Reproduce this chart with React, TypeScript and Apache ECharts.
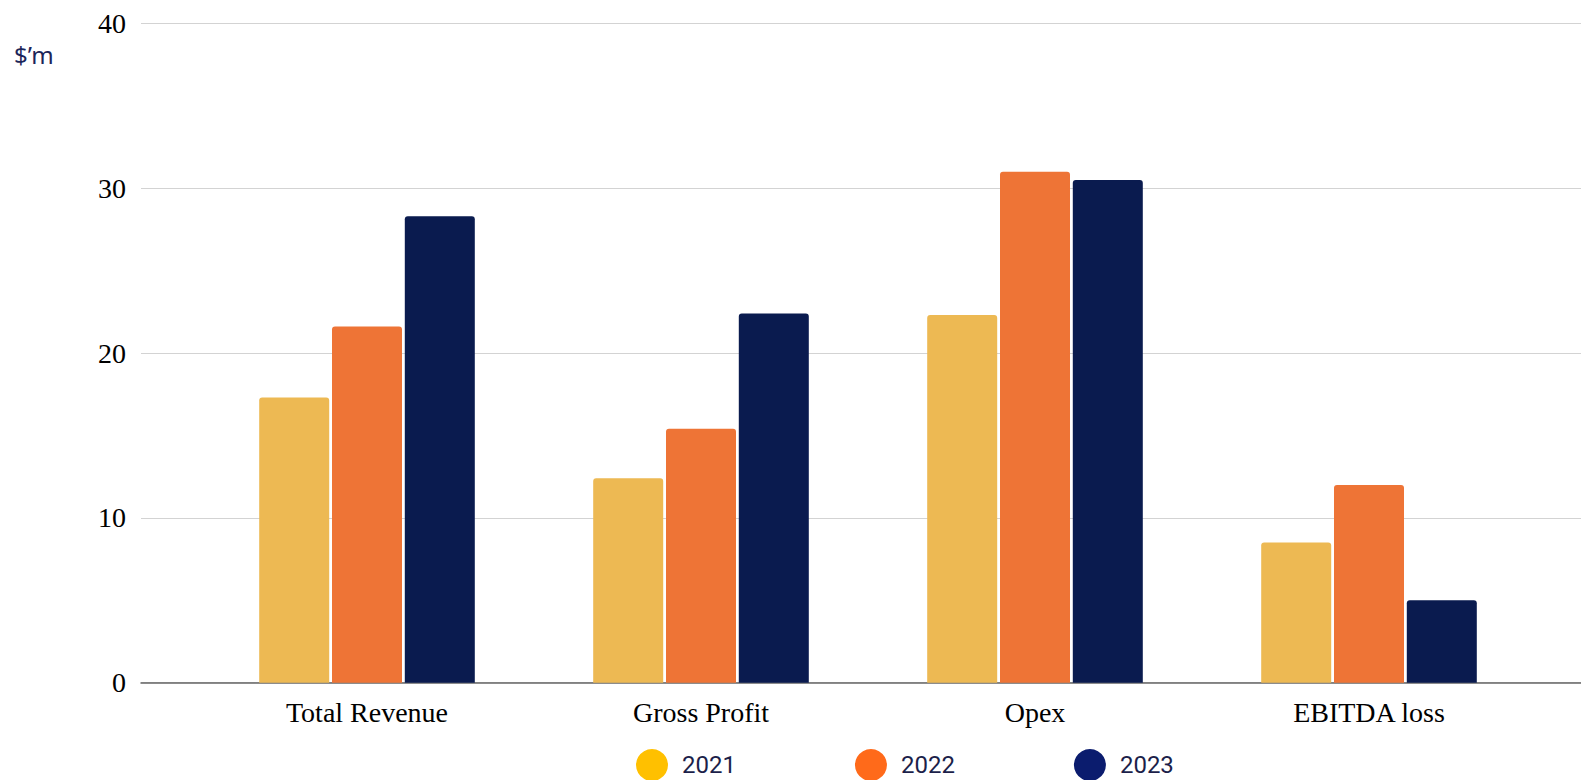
import React, { useEffect, useRef } from "react";
import * as echarts from "echarts";

const categories = ["Total Revenue", "Gross Profit", "Opex", "EBITDA loss"];
const years = ["2021", "2022", "2023"];
const values2021 = [17.3, 12.4, 22.3, 8.5];
const values2022 = [21.6, 15.4, 31.0, 12.0];
const values2023 = [28.3, 22.4, 30.5, 5.0];
const barColors = ["#EDB953", "#EE7436", "#0A1B4F"];
const legendColors = ["#FFC000", "#FF6A1A", "#0B1C6E"];
const yMin = 0;
const yMax = 40;
const yInterval = 10;

export default function App() {
  const ref = useRef<HTMLDivElement>(null);
  useEffect(() => {
    if (!ref.current) return;
    const chart = echarts.init(ref.current, null, { renderer: "svg" });
    const serif = "'Liberation Serif', 'Times New Roman', serif";
    const seriesData = [values2021, values2022, values2023];
    chart.setOption({
      animation: false,
      backgroundColor: "#ffffff",
      graphic: [
        {
          type: "text",
          left: 14,
          top: 42,
          style: {
            text: "$\u2019m",
            fontFamily: "'Noto Sans', 'Open Sans', sans-serif",
            fontSize: 24,
            fill: "#1B2559",
          },
        },
      ],
      legend: {
        left: 636,
        top: 749,
        padding: 0,
        itemWidth: 50,
        itemHeight: 32,
        itemGap: 119,
        icon: "circle",
        selectedMode: false,
        textStyle: {
          fontFamily: "Roboto, sans-serif",
          fontSize: 24,
          lineHeight: 20,
          color: "#1C1F4A",
        },
        data: years.map((y, i) => ({ name: y, itemStyle: { color: legendColors[i] } })),
      },
      grid: [
        { left: 141, right: 0, top: 23.3, bottom: 97.3, containLabel: false },
        { left: 200, width: 1336, top: 23.3, bottom: 97.3, containLabel: false },
      ],
      xAxis: [
        {
          type: "category",
          gridIndex: 0,
          data: categories,
          axisLine: { show: true, lineStyle: { color: "#666666", width: 1.5 } },
          axisTick: { show: false },
          axisLabel: { show: false },
        },
        {
          type: "category",
          gridIndex: 1,
          data: categories,
          axisLine: { show: false },
          axisTick: { show: false },
          axisLabel: { fontFamily: serif, fontSize: 28, color: "#000000", margin: 16 },
        },
      ],
      yAxis: [
        {
          type: "value",
          gridIndex: 0,
          min: yMin,
          max: yMax,
          interval: yInterval,
          axisLine: { show: false },
          axisTick: { show: false },
          axisLabel: { fontFamily: serif, fontSize: 28, color: "#000000", margin: 15 },
          splitLine: { show: true, lineStyle: { color: "#D3D3D3", width: 1 } },
        },
        {
          type: "value",
          gridIndex: 1,
          min: yMin,
          max: yMax,
          interval: yInterval,
          show: false,
          splitLine: { show: false },
        },
      ],
      series: years.map((y, i) => ({
        name: y,
        type: "bar",
        xAxisIndex: 1,
        yAxisIndex: 1,
        data: seriesData[i],
        barWidth: 70,
        barGap: "4%",
        itemStyle: { color: barColors[i], borderRadius: [3, 3, 0, 0] },
      })),
    });
    return () => chart.dispose();
  }, []);
  return (
    <div
      ref={ref}
      style={{ position: "fixed", left: 0, top: 0, width: 1581, height: 780 }}
    />
  );
}
